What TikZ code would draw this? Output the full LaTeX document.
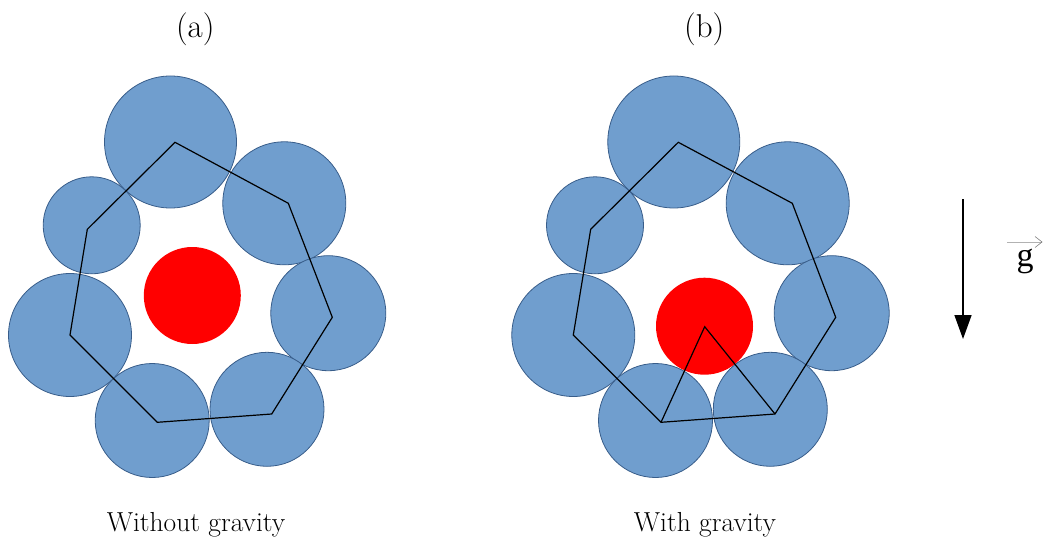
\documentclass[tikz,border=0pt]{standalone}
\usepackage{fontspec}
\newfontfamily\timesfont{Liberation Serif}
\usetikzlibrary{arrows.meta}
\definecolor{ballfill}{RGB}{112,158,206}
\definecolor{balledge}{RGB}{56,93,138}
\definecolor{core}{RGB}{255,0,0}
\tikzset{
  ball/.style={circle, fill=ballfill, draw=balledge, line width=0.8pt, inner sep=0pt, minimum size=#1},
  redball/.style={circle, fill=core, inner sep=0pt, minimum size=#1},
  chain/.style={black, line width=1.2pt, line join=miter},
  lbl/.style={font=\fontsize{33}{37}\selectfont, inner sep=0pt},
  captext/.style={font=\fontsize{27.5}{31}\selectfont, inner sep=0pt, anchor=base},
}
\begin{document}
\begin{tikzpicture}[x=1pt,y=-1pt]
\useasboundingbox (0,0) rectangle (1043,540);
% ---------------- panel (a) ----------------
\node[ball=132pt] (a1) at (170.5,142) {};
\node[ball=97pt]  (a2) at (91.7,225.3) {};
\node[ball=123pt] (a3) at (284.3,203.3) {};
\node[ball=115pt] (a4) at (328.3,313.2) {};
\node[ball=123pt] (a5) at (70,335) {};
\node[ball=114pt] (a6) at (152.2,420.5) {};
\node[ball=114pt] (a7) at (267,409.3) {};
\node[redball=97pt] (ar) at (192.3,295.5) {};
\coordinate (pa1) at (175,142.3);
\coordinate (pa2) at (288.3,203.3);
\coordinate (pa3) at (332.3,317.3);
\coordinate (pa4) at (271.7,414);
\coordinate (pa5) at (157.3,422.3);
\coordinate (pa6) at (70,335);
\coordinate (pa7) at (87.3,229.3);
\draw[chain] (pa1) -- (pa2) -- (pa3) -- (pa4) -- (pa5) -- (pa6) -- (pa7) -- cycle;
% ---------------- panel (b) ----------------
\node[ball=132pt] (b1) at (673.8,142) {};
\node[ball=97pt]  (b2) at (595,225.3) {};
\node[ball=123pt] (b3) at (787.7,203.3) {};
\node[ball=115pt] (b4) at (831.7,313.2) {};
\node[ball=123pt] (b5) at (573.3,335) {};
\node[ball=114pt] (b6) at (655.5,420.5) {};
\node[ball=114pt] (b7) at (770.3,409.3) {};
\node[redball=97pt] (br) at (704.5,326.2) {};
\coordinate (pb1) at (678.3,142.3);
\coordinate (pb2) at (792.3,203.3);
\coordinate (pb3) at (835.7,317.3);
\coordinate (pb4) at (775,414);
\coordinate (pb5) at (661,422.3);
\coordinate (pb6) at (573.3,335);
\coordinate (pb7) at (590.7,229.3);
\coordinate (pbc) at (704.7,326.7);
\draw[chain] (pb1) -- (pb2) -- (pb3) -- (pb4) -- (pb5) -- (pb6) -- (pb7) -- cycle;
\draw[chain] (pb5) -- (pbc) -- (pb4);
% ---------------- labels ----------------
\node[lbl] (la) at (195.3,29) {(a)};
\node[lbl] (lb) at (704.3,29) {(b)};
\node[captext] (ca) at (196,531.5) {Without gravity};
\node[captext] (cb) at (705,531.5) {With gravity};
% ---------------- gravity arrow ----------------
\coordinate (g0) at (963,199);
\coordinate (g1) at (963,339);
\draw[line width=1.5pt, -{Triangle[length=24pt,width=17pt]}] (g0) -- (g1);
\coordinate (v0) at (1007,242);
\coordinate (v1) at (1042.5,242);
\draw[gray!60, line width=0.6pt, -{Straight Barb[length=7pt,width=11pt,color=gray]}] (v0) -- (v1);
\node[font=\timesfont\fontsize{34}{38}\selectfont, inner sep=0pt] (gl) at (1025,261) {g};
\end{tikzpicture}
\end{document}
